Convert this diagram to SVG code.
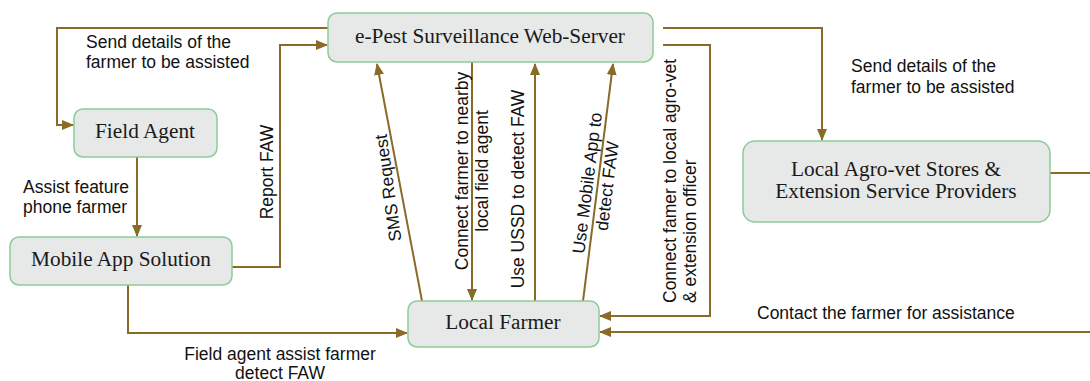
<svg xmlns="http://www.w3.org/2000/svg" width="1090" height="381" viewBox="0 0 1090 381">
<defs>
<marker id="arr" markerUnits="userSpaceOnUse" markerWidth="12" markerHeight="10" refX="11" refY="5" orient="auto">
<path d="M0,0 L12,5 L0,10 Z" fill="#8a6a27"/>
</marker>
<style>
.box{fill:#e7e8e8;stroke:#8ccb95;stroke-width:1.5}
.nt{font-family:"Liberation Serif","Times New Roman",serif;font-size:21.3px;fill:#1a1a1a;text-anchor:middle}
.lb{font-family:"Liberation Sans",Arial,sans-serif;font-size:17.5px;fill:#111}
.c{fill:none;stroke:#8a6a27;stroke-width:2}
.a{marker-end:url(#arr)}
.m{text-anchor:middle}
</style>
</defs>
<rect width="1090" height="381" fill="#fff"/>
<g id="connectors">
<path class="c a" d="M328,28 H57 V125 H73"/>
<path class="c a" d="M232,267 H280 V45 H327"/>
<path class="c a" d="M137,157 V236"/>
<path class="c a" d="M128,285 V333 H407"/>
<path class="c a" d="M422,301 L377,64"/>
<path class="c a" d="M472,62 V300"/>
<path class="c a" d="M535,301 V64"/>
<path class="c a" d="M583,301 L613,64"/>
<path class="c a" d="M663,45 H710 V316 H600"/>
<path class="c a" d="M663,28 H822 V140"/>
<path class="c a" d="M1050,173 H1096 V332 H600"/>
</g>
<g id="labels">
<text class="lb" x="86" y="48">Send details of the</text>
<text class="lb" x="86" y="68">farmer to be assisted</text>
<text class="lb" x="851" y="72">Send details of the</text>
<text class="lb" x="851" y="93">farmer to be assisted</text>
<text class="lb" x="23" y="193">Assist feature</text>
<text class="lb" x="23" y="213">phone farmer</text>
<text class="lb m" x="280" y="360">Field agent assist farmer</text>
<text class="lb m" x="280" y="379">detect FAW</text>
<text class="lb" x="757" y="319">Contact the farmer for assistance</text>
<text class="lb m" transform="translate(267,172) rotate(-90)" dy="0.35em">Report FAW</text>
<text class="lb m" transform="translate(388,188) rotate(-98)" dy="0.35em">SMS Request</text>
<text class="lb m" transform="translate(462,171) rotate(-90)" dy="0.35em">Connect farmer to nearby</text>
<text class="lb m" transform="translate(482,171) rotate(-90)" dy="0.35em">local field agent</text>
<text class="lb m" transform="translate(518,189) rotate(-90)" dy="0.35em">Use USSD to detect FAW</text>
<text class="lb m" transform="translate(587,183) rotate(-82.8)" dy="0.35em">Use Mobile App to</text>
<text class="lb m" transform="translate(607,186) rotate(-82.8)" dy="0.35em">detect FAW</text>
<text class="lb" transform="translate(670,303) rotate(-90)" dy="0.35em">Connect famer to local agro-vet</text>
<text class="lb" transform="translate(690,303) rotate(-90)" dy="0.35em">&amp; extension officer</text>
</g>
<g id="web-server">
<rect class="box" x="328" y="13" width="325" height="49" rx="9"/>
<text class="nt" x="490" y="43">e-Pest Surveillance Web-Server</text>
</g>
<g id="field-agent">
<rect class="box" x="74" y="109" width="143" height="48" rx="9"/>
<text class="nt" x="145" y="138">Field Agent</text>
</g>
<g id="mobile-app">
<rect class="box" x="10" y="237" width="222" height="48" rx="9"/>
<text class="nt" x="121" y="266">Mobile App Solution</text>
</g>
<g id="local-farmer">
<rect class="box" x="408" y="301" width="191" height="46" rx="9"/>
<text class="nt" x="503" y="329">Local Farmer</text>
</g>
<g id="agro-vet">
<rect class="box" x="743" y="141" width="307" height="81" rx="12"/>
<text class="nt" x="896" y="176">Local Agro-vet Stores &amp;</text>
<text class="nt" x="896" y="198">Extension Service Providers</text>
</g>
</svg>
